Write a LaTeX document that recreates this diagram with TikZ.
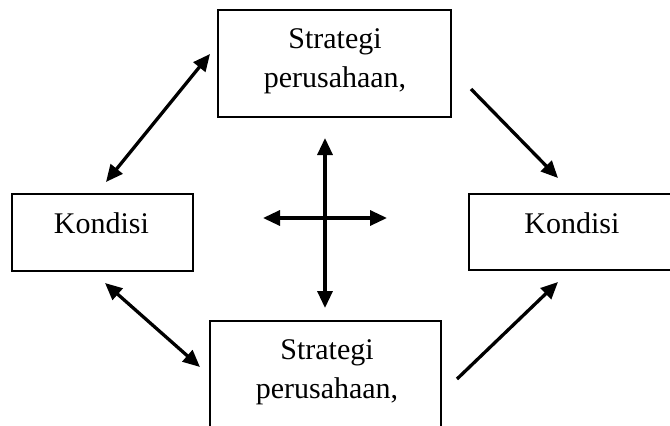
\documentclass[tikz,border=0pt]{standalone}
\usepackage{fontspec}
\setmainfont{Liberation Serif}
\usetikzlibrary{arrows.meta}
\begin{document}
\begin{tikzpicture}[x=1pt,y=-1pt,
  box/.style={draw=black,line width=2.6pt,minimum width=#1,inner sep=0pt},
  txt/.style={inner sep=0pt,align=center,font=\fontsize{30}{39}\selectfont},
  arr/.style={line width=3.3pt,-{Triangle[length=17pt,width=15pt]}},
  darr/.style={line width=3.3pt,{Triangle[length=17pt,width=15pt]}-{Triangle[length=17pt,width=15pt]}}]
\useasboundingbox (0,0) rectangle (670,426);
% boxes
\node[box=233pt,minimum height=107pt] (st) at (334.5,63.5) {};
\node[box=181pt,minimum height=77pt] (kl) at (102.5,232.5) {};
\node[box=221pt,minimum height=76pt] (kr) at (579.5,232) {};
\node[box=231pt,minimum height=107pt] (sb) at (325.5,374.5) {};
% texts
\node[txt] (stt) at (335,61) {Strategi\\perusahaan,};
\node[txt] (klt) at (101.5,223) {Kondisi};
\node[txt] (krt) at (572,223) {Kondisi};
\node[txt] (sbt) at (327,372) {Strategi\\perusahaan,};
% arrow end points
\coordinate (tl1) at (106,182);
\coordinate (tl2) at (210,54);
\coordinate (tr1) at (471,89);
\coordinate (tr2) at (558,178);
\coordinate (bl1) at (105,283);
\coordinate (bl2) at (200,367);
\coordinate (br1) at (457,379);
\coordinate (br2) at (558,282);
\coordinate (cu) at (325,138);
\coordinate (cd) at (325,308);
\coordinate (cl) at (263,218);
\coordinate (cr) at (387,218);
% connectors
\draw[darr] (tl1) -- (tl2);
\draw[arr] (tr1) -- (tr2);
\draw[darr] (bl1) -- (bl2);
\draw[arr] (br1) -- (br2);
\draw[darr] (cu) -- (cd);
\draw[darr] (cl) -- (cr);
\end{tikzpicture}
\end{document}
